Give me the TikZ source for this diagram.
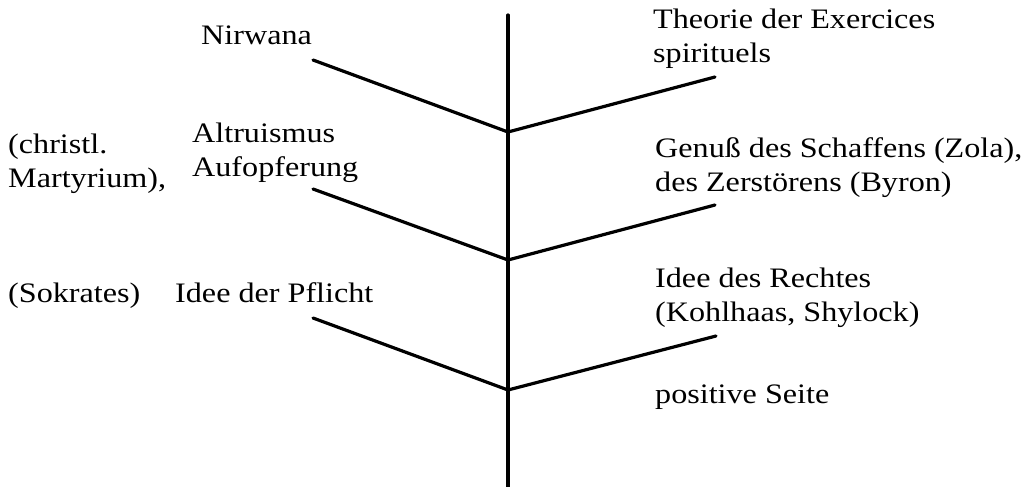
\documentclass[tikz,border=0pt]{standalone}
\usepackage{fontspec}
\setmainfont{Liberation Serif}[FakeStretch=1.14]
\begin{document}
\begin{tikzpicture}[x=1pt,y=-1pt,
  branch/.style={line width=3.2pt,line cap=round,black},
  lbl/.style={anchor=base west,inner sep=0pt,font=\fontsize{28.2}{34}\selectfont,text=black}]
\useasboundingbox (0,0) rectangle (1036,487);
% trunk and junctions
\coordinate (top) at (508,15);
\coordinate (bot) at (508,489);
\coordinate (j1) at (508,132);
\coordinate (j2) at (508,260);
\coordinate (j3) at (508,390);
% branch ends
\coordinate (l1) at (313,60);
\coordinate (r1) at (715,77);
\coordinate (l2) at (313,189);
\coordinate (r2) at (715,205);
\coordinate (l3) at (313,318);
\coordinate (r3) at (716,336);
\draw[branch] (top) -- (bot);
\draw[branch] (l1) -- (j1) -- (r1);
\draw[branch] (l2) -- (j2) -- (r2);
\draw[branch] (l3) -- (j3) -- (r3);
% labels
\node[lbl] (nirwana) at (201,45) {Nirwana};
\node[lbl] (theorie) at (653,29) {\begin{tabular}[t]{@{}l@{}}Theorie der Exercices\\spirituels\end{tabular}};
\node[lbl] (christl) at (8,153) {\begin{tabular}[t]{@{}l@{}}(christl.\\Martyrium),\end{tabular}};
\node[lbl] (altru) at (192,142) {\begin{tabular}[t]{@{}l@{}}Altruismus\\Aufopferung\end{tabular}};
\node[lbl] (genuss) at (655,157) {\begin{tabular}[t]{@{}l@{}}Genuß des Schaffens (Zola),\\des Zerstörens (Byron)\end{tabular}};
\node[lbl] (sokr) at (8,302) {(Sokrates)};
\node[lbl] (pflicht) at (175,302) {Idee der Pflicht};
\node[lbl] (recht) at (655,287) {\begin{tabular}[t]{@{}l@{}}Idee des Rechtes\\(Kohlhaas, Shylock)\end{tabular}};
\node[lbl] (posit) at (655,403) {positive Seite};
\end{tikzpicture}
\end{document}
